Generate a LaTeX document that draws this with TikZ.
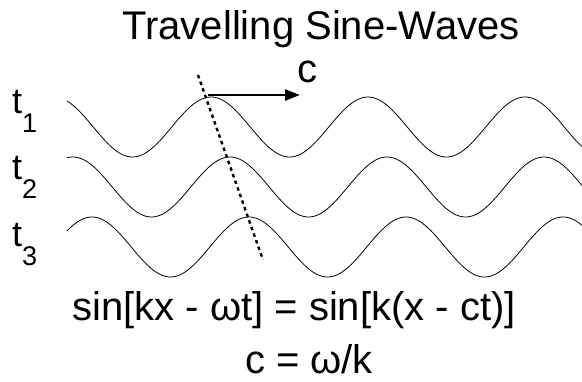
\documentclass[tikz,border=0pt]{standalone}
\usepackage{fontspec}
\setmainfont{Liberation Sans}
\usetikzlibrary{arrows.meta}

\begin{document}
\begin{tikzpicture}[x=1pt, y=1pt,
    wave/.style={black, line width=0.8pt},
    txt/.style={inner sep=0pt, anchor=base, font=\fontsize{40}{40}\selectfont},
    tlabel/.style={inner sep=0pt, anchor=base west, font=\fontsize{36}{36}\selectfont}]
    \useasboundingbox (0,0) rectangle (582,381);

    % Title
    \node[txt] (title) at (321,341) {Travelling Sine-Waves};

    % Same wave at three times, each one shifted right
    \foreach \i in {0,1,2} {
        \draw[wave] plot[domain=67:582, samples=240, smooth]
            (\x, {254 - 60*\i + 30*cos((\x - 211 - 19*\i)/157*360)});
    }
    \node[tlabel] (t1) at (12,267) {t\raisebox{-19pt}{\fontsize{27}{27}\selectfont 1}};
    \node[tlabel] (t2) at (12,201) {t\raisebox{-19pt}{\fontsize{27}{27}\selectfont 2}};
    \node[tlabel] (t3) at (12,135) {t\raisebox{-19pt}{\fontsize{27}{27}\selectfont 3}};

    % Line through the crests
    \coordinate (dtop) at (198,306);
    \coordinate (dbot) at (263,121);
    \draw[line width=2.4pt, dash pattern=on 3.5pt off 3.5pt] (dtop) -- (dbot);

    % Wave speed
    \coordinate (crest) at (208,286);
    \coordinate (tip) at (300,286);
    \draw[-{Triangle[length=15pt, width=11pt]}, line width=2.5pt] (crest) -- (tip);
    \node[txt] (clabel) at (307,298) {c};

    % Relations
    \node[txt] (eq) at (294,60) {sin[kx - ωt] = sin[k(x - ct)]};
    \node[txt] (cdef) at (309,8) {c = ω/k};
\end{tikzpicture}
\end{document}
